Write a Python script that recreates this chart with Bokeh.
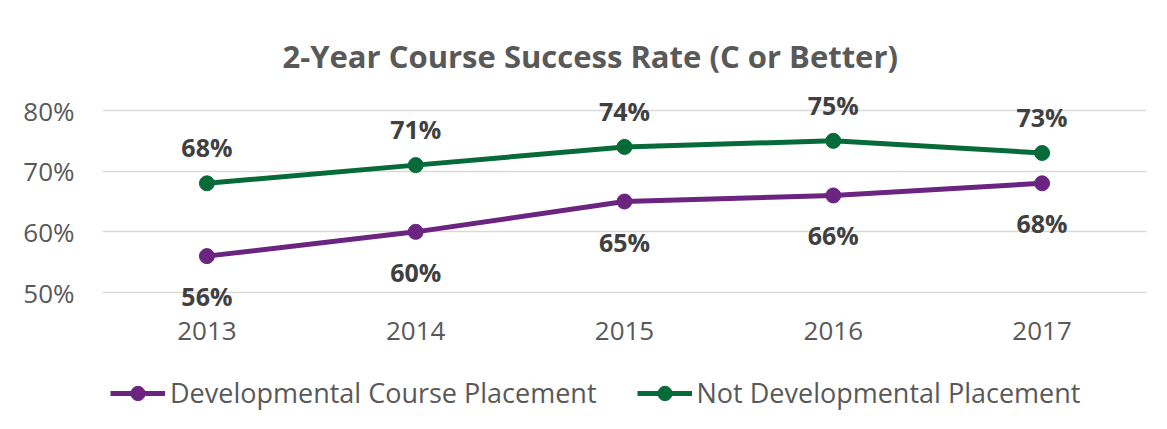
from bokeh.plotting import figure
from bokeh.models import ColumnDataSource, LabelSet, Legend, LegendItem, FixedTicker, Range1d, CustomJSTickFormatter
from bokeh.core.properties import value
from bokeh.embed import file_html
from bokeh.resources import INLINE

years = ["2013", "2014", "2015", "2016", "2017"]
dev_rate = [56, 60, 65, 66, 68]
notdev_rate = [68, 71, 74, 75, 73]
series_names = ["Developmental Course Placement", "Not Developmental Placement"]
y_ticks = [50, 60, 70, 80]

PURPLE = "#6B2580"
GREEN = "#066B38"
FONT = "Open Sans"

src = ColumnDataSource(dict(
    year=years,
    dev=dev_rate,
    notdev=notdev_rate,
    dev_lbl=[f"{v}%" for v in dev_rate],
    notdev_lbl=[f"{v}%" for v in notdev_rate],
))

W, H = 1167, 429
p = figure(x_range=years, y_range=Range1d(27.42, 83.63), width=W, height=H,
           output_backend="svg", toolbar_location=None,
           min_border_left=102, min_border_right=21, min_border_top=88, min_border_bottom=0)

p.title.text = "2-Year Course Success Rate (C or Better)"
p.title.align = "left"
p.title.offset = 180
p.title.text_font = FONT
p.title.text_font_style = "bold"
p.title.text_font_size = "31px"
p.title.text_color = "#595959"
p.title.standoff = 24

p.outline_line_color = None
p.background_fill_color = "white"
p.border_fill_color = "white"

p.xgrid.grid_line_color = None
p.ygrid.grid_line_color = "#D9D9D9"
p.ygrid.grid_line_width = 1.5
p.yaxis.ticker = FixedTicker(ticks=y_ticks)
p.yaxis.formatter = CustomJSTickFormatter(code="return tick + '%';")

for ax in (p.xaxis, p.yaxis):
    ax.axis_line_color = None
    ax.major_tick_line_color = None
    ax.minor_tick_line_color = None
    ax.major_label_text_font = FONT
    ax.major_label_text_font_size = "26px"
    ax.major_label_text_color = "#595959"
p.yaxis.major_label_standoff = 22
p.xaxis.major_label_standoff = 5
p.xaxis.fixed_location = 47.03

r1l = p.line("year", "dev", source=src, line_color=PURPLE, line_width=5)
r1c = p.scatter("year", "dev", source=src, size=15, fill_color=PURPLE, line_color=PURPLE)
r2l = p.line("year", "notdev", source=src, line_color=GREEN, line_width=5)
r2c = p.scatter("year", "notdev", source=src, size=15, fill_color=GREEN, line_color=GREEN)

lbl_common = dict(source=src, text_font=value(FONT), text_font_size=value("25px"),
                  text_font_style=value("bold"), text_color=value("#404040"),
                  text_align=value("center"), text_baseline=value("middle"))
p.add_layout(LabelSet(x="year", y="notdev", text="notdev_lbl", y_offset=36, **lbl_common))
p.add_layout(LabelSet(x="year", y="dev", text="dev_lbl", y_offset=-40, **lbl_common))

legend = Legend(items=[LegendItem(label=series_names[0], renderers=[r1l, r1c]),
                       LegendItem(label=series_names[1], renderers=[r2l, r2c])],
                orientation="horizontal", location=(8, 18),
                glyph_width=55, glyph_height=36, label_standoff=5, spacing=40,
                label_text_font=FONT, label_text_font_size="27px", label_text_color="#595959",
                border_line_color=None, background_fill_alpha=0, margin=0, padding=9)
p.add_layout(legend, "center")

open("out.html", "w").write(file_html(p, INLINE))
